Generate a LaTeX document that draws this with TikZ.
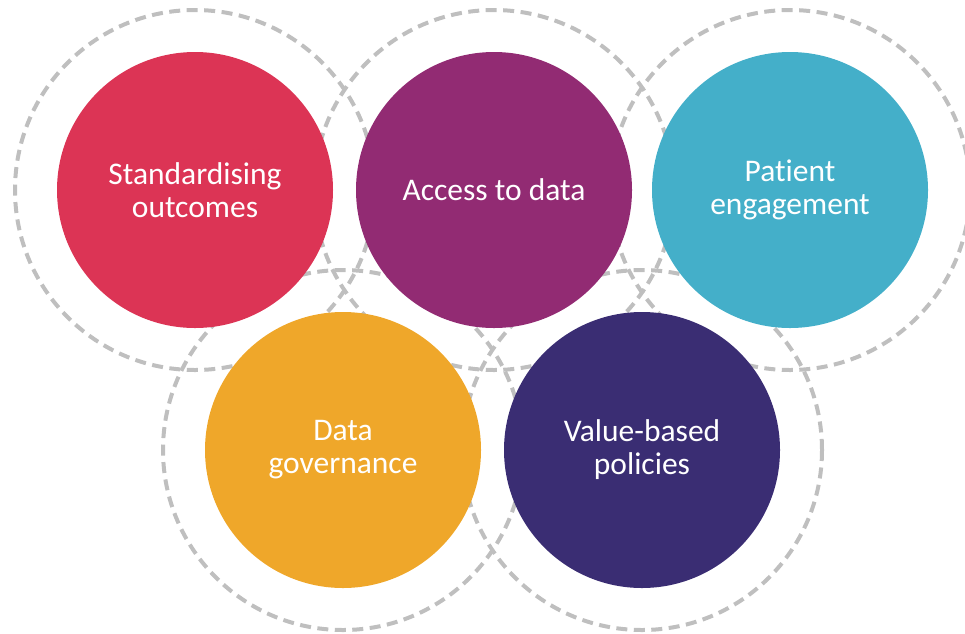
\documentclass[tikz,border=0pt]{standalone}
\usepackage{fontspec}
\setmainfont{Carlito}[Ligatures={NoCommon,NoRare,NoContextual}]
\definecolor{cRed}{HTML}{DC3455}
\definecolor{cPurple}{HTML}{922B73}
\definecolor{cTeal}{HTML}{44AFC9}
\definecolor{cOrange}{HTML}{EFA72A}
\definecolor{cIndigo}{HTML}{3A2D73}
\definecolor{cDash}{HTML}{BFBFBF}
\tikzset{
  ring/.style={draw=cDash, line width=4pt, dash pattern=on 11pt off 6.5pt, fill=none},
  disc/.style={circle, minimum size=276pt, inner sep=0pt, text=white, align=center,
    font=\fontsize{31.5}{33}\selectfont},
}
\begin{document}
\begin{tikzpicture}[x=1pt,y=-1pt]
\useasboundingbox (0,0) rectangle (965,633);
\coordinate (cA) at (195,190);
\coordinate (cB) at (494,190);
\coordinate (cC) at (790,190);
\coordinate (cD) at (343,450);
\coordinate (cE) at (642,450);
\foreach \c in {cA,cB,cC,cD,cE}{
  \draw[ring] (\c) circle[radius=180];
}
\node[disc, fill=cRed] (std) at (cA) {Standardising\\outcomes};
\node[disc, fill=cPurple] (acc) at (cB) {Access to data};
\node[disc, fill=cTeal] (pat) at (cC) {Patient\\engagement};
\node[disc, fill=cOrange] (gov) at (cD) {Data\\governance};
\node[disc, fill=cIndigo] (val) at (cE) {Value-based\\policies};
\end{tikzpicture}
\end{document}
